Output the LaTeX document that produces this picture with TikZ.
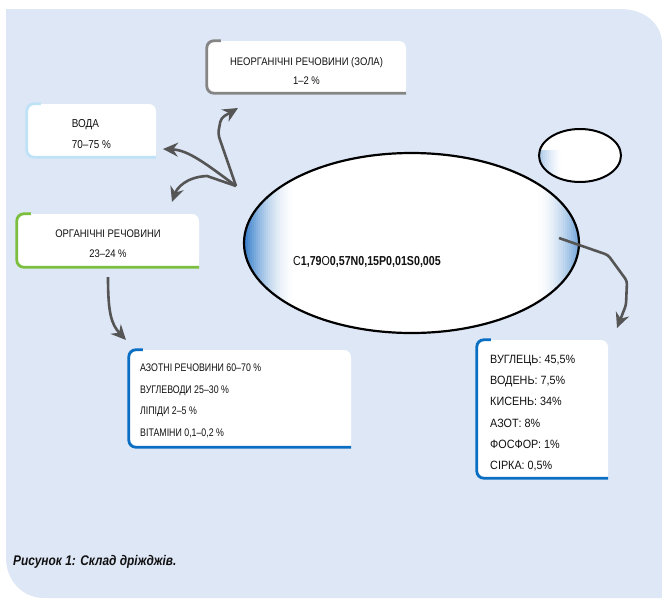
\documentclass[tikz,border=0pt]{standalone}
\usepackage{fontspec}
\setmainfont[FakeStretch=0.86]{Liberation Sans}
\newfontfamily\narrowfont[FakeStretch=0.8]{Liberation Sans}
\newfontfamily\elemfont[FakeStretch=0.9]{Liberation Sans}
\newfontfamily\formfont[FakeStretch=0.82]{Liberation Sans}
\newfontfamily\capfont[FakeStretch=0.85]{Liberation Sans}
\usetikzlibrary{arrows.meta,calc,shapes.geometric}
\definecolor{bgc}{HTML}{DEE7F6}
\definecolor{arrc}{HTML}{555555}
\definecolor{greyb}{HTML}{858585}
\definecolor{lblue}{HTML}{BFE2F7}
\definecolor{greenb}{HTML}{7CBF3F}
\definecolor{blueb}{HTML}{0A6FC2}
\definecolor{ellblue}{HTML}{2C78C8}
\definecolor{txt}{HTML}{111111}
\tikzset{
  boxbase/.style={fill=white, rounded corners=7pt, inner sep=0pt},
  boxtext/.style={inner sep=0pt, text=txt},
  arr/.style={draw=arrc, line width=2.6pt, -{Stealth[length=15pt,width=14pt,inset=5pt]}},
}
\newcommand\ybframe[2]{%
  \fill[white] ($(#1.south east)+(-9pt,9pt)$) rectangle (#1.south east);
  \draw[#2, line width=2.8pt, rounded corners=7pt] ($(#1.north west)+(14pt,0pt)$) -- (#1.north west) -- (#1.south west) -- (#1.south east);
}
\begin{document}
\begin{tikzpicture}[x=1pt,y=-1pt]
\useasboundingbox (0,0) rectangle (662,598);
% background
\fill[bgc] (6,9) -- (620,9) .. controls (645,9) and (662,24) .. (662,44) -- (662,598) -- (44,598) .. controls (22,598) and (6,580) .. (6,558) -- cycle;

% boxes
\node[boxbase, minimum width=199pt, minimum height=52pt] (neorg) at (306.5,67) {};
\ybframe{neorg}{greyb}
\node[boxtext, align=center, font={\fontsize{11}{19}\selectfont}] (neorgtxt) at (306.5,71) {НЕОРГАНІЧНІ РЕЧОВИНИ (ЗОЛА)\\1–2 \%};

\node[boxbase, minimum width=129pt, minimum height=53pt] (voda) at (91.5,130.5) {};
\ybframe{voda}{lblue}
\node[boxtext, align=left, font={\fontsize{11.5}{21}\selectfont}] (vodatxt) at (91.5,134) {ВОДА\\70–75 \%};

\node[boxbase, minimum width=182pt, minimum height=53pt] (org) at (108,240.5) {};
\ybframe{org}{greenb}
\node[boxtext, align=center, font={\fontsize{11}{20}\selectfont}] (orgtxt) at (108,244) {ОРГАНІЧНІ РЕЧОВИНИ\\23–24 \%};

\node[boxbase, minimum width=222pt, minimum height=97pt] (azot) at (240,398.5) {};
\ybframe{azot}{blueb}
\node[boxtext, anchor=west, align=left, font={\narrowfont\fontsize{11}{21.5}\selectfont\frenchspacing}] (azottxt) at (140,401) {АЗОТНІ РЕЧОВИНИ 60–70 \%\\ВУГЛЕВОДИ 25–30 \%\\ЛІПІДИ 2–5 \%\\ВІТАМІНИ 0,1–0,2 \%};

\node[boxbase, minimum width=131pt, minimum height=138pt] (elem) at (542.5,409) {};
\ybframe{elem}{blueb}
\node[boxtext, anchor=west, align=left, font={\elemfont\fontsize{12}{21.2}\selectfont\frenchspacing}] (elemtxt) at (490,413) {ВУГЛЕЦЬ: 45,5\%\\ВОДЕНЬ: 7,5\%\\КИСЕНЬ: 34\%\\АЗОТ: 8\%\\ФОСФОР: 1\%\\СІРКА: 0,5\%};

% big ellipse with blue edge glow
\node[ellipse, fill=white, minimum width=335pt, minimum height=180pt] (cell) at (411.5,243) {};
\begin{scope}
  \clip (cell.center) ellipse [x radius=167.5pt, y radius=90pt];
  \foreach \i in {0,...,24} {
    \pgfmathsetmacro\op{0.95*(1-\i/25)^1.8}
    \fill[ellblue, opacity=\op] ({244+\i*2},150) rectangle ({246.3+\i*2},340);
  }
  \foreach \i in {0,...,20} {
    \pgfmathsetmacro\op{0.65*(1-\i/21)^1.8}
    \fill[ellblue, opacity=\op] ({579-\i*2},150) rectangle ({576.7-\i*2},340);
  }
\end{scope}
\draw[black, line width=2.2pt] (cell.center) ellipse [x radius=167.5pt, y radius=90pt];

% small ellipse
\node[ellipse, fill=white, minimum width=82pt, minimum height=53pt] (small) at (580,155.5) {};
\begin{scope}
  \clip (small.center) ellipse [x radius=41pt, y radius=26.5pt];
  \foreach \i in {0,...,10} {
    \pgfmathsetmacro\op{0.4*(1-\i/11)^1.5}
    \fill[ellblue, opacity=\op] ({539+\i*2},150) rectangle ({541.3+\i*2},185);
  }
\end{scope}
\draw[black, line width=2pt] (small.center) ellipse [x radius=41pt, y radius=26.5pt];

\node[anchor=west, inner sep=0pt, text=txt, font={\formfont\fontsize{13}{15}\selectfont}] (formula) at (293,262) {C\textbf{1,79}O\textbf{0,57N0,15P0,01S0,005}};

% arrows
\coordinate (hub) at (236,186);
\coordinate (vodatip) at (163,149);
\coordinate (neorgtip) at (238,108);
\coordinate (orgtip) at (172,202);
\coordinate (orgstart) at (108,277);
\coordinate (azottip) at (126,340);
\coordinate (cellstart) at (559,238);
\coordinate (elemtip) at (617,328);

\draw[arr] (hub) .. controls (205,163) and (188,150) .. (vodatip);
\draw[arr, rounded corners=4pt] (hub) -- (218,134) -- (221,118) -- (neorgtip);
\draw[arr] (hub) -- (207,176) .. controls (186,177) and (177,188) .. (orgtip);
\draw[arr] (orgstart) .. controls (108,312) and (111,324) .. (azottip);
\draw[arr, rounded corners=3pt] (cellstart) -- (608,255) -- (627,281) -- (626,305) -- (elemtip);

% caption
\node[anchor=west, inner sep=0pt, text=txt, font={\capfont\fontsize{14}{16}\selectfont\bfseries\itshape}] (caption) at (13,562) {Рисунок 1: Склад дріжджів.};
\end{tikzpicture}
\end{document}
